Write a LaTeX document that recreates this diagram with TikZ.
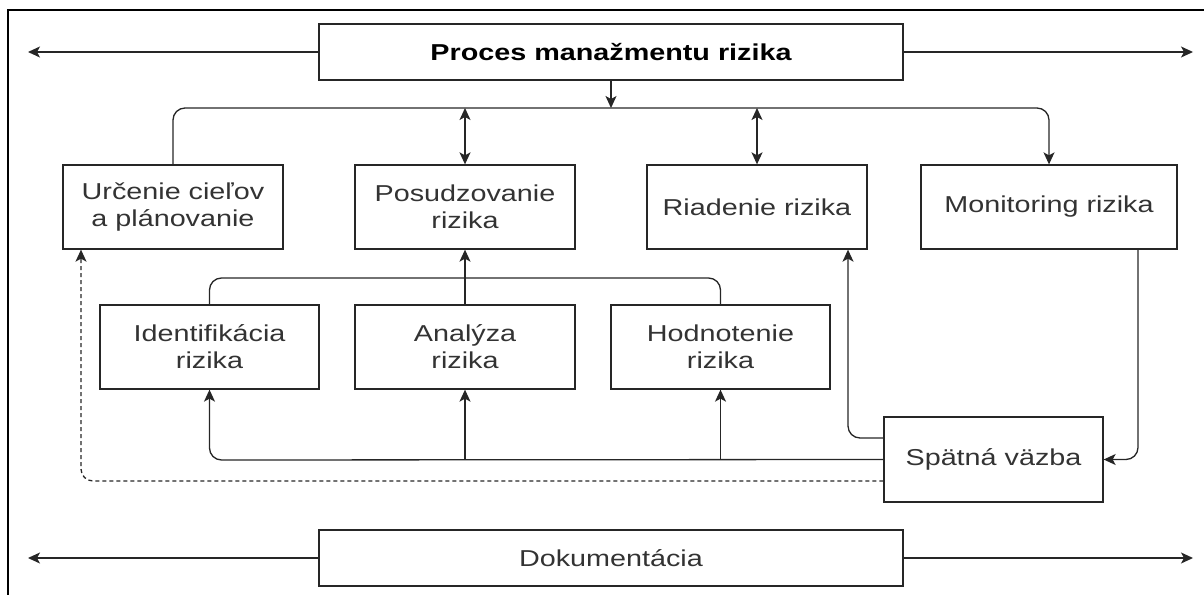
\documentclass[tikz,border=0pt]{standalone}
\usepackage{fontspec}
\setmainfont[FakeStretch=1.25]{Liberation Sans}
\usetikzlibrary{arrows.meta}
\begin{document}
\begin{tikzpicture}[x=1pt,y=-1pt,
  box/.style={draw=black!85, line width=1.3pt, inner sep=0pt, align=center,
    text=black!80, font=\fontsize{23}{27}\selectfont, minimum height=84pt},
  conn/.style={draw=black!85, line width=1.3pt},
  arr/.style={conn, -{Stealth[length=12pt,width=11pt,inset=3pt]}},
  darr/.style={conn, {Stealth[length=12pt,width=11pt,inset=3pt]}-{Stealth[length=12pt,width=11pt,inset=3pt]}},
  rc/.style={rounded corners=12pt}]
\useasboundingbox (0,0) rectangle (1204,594);
\draw[line width=1.2pt, black] (8,600) -- (8,10) -- (1210,10);

\node[box, minimum width=584pt, minimum height=56pt, text=black, font=\fontsize{23}{27}\selectfont\bfseries] (top) at (611,52) {Proces manažmentu rizika};
\node[box, minimum width=584pt, minimum height=56pt] (dok) at (611,558) {Dokumentácia};

\node[box, minimum width=220pt] (urc) at (173,207) {Určenie cieľov\\a plánovanie};
\node[box, minimum width=220pt] (pos) at (465,207) {Posudzovanie\\rizika};
\node[box, minimum width=220pt] (ria) at (757,207) {Riadenie rizika};
\node[box, minimum width=256pt] (mon) at (1049,207) {Monitoring rizika};

\node[box, minimum width=219pt] (ide) at (209.5,347) {Identifikácia\\rizika};
\node[box, minimum width=220pt] (ana) at (465,347) {Analýza\\rizika};
\node[box, minimum width=219pt] (hod) at (720.5,347) {Hodnotenie\\rizika};

\node[box, minimum width=219pt, minimum height=85pt] (spa) at (993.5,459.5) {Spätná väzba};

% coordinates
\coordinate (tl) at (28,52);
\coordinate (tr) at (1193,52);
\coordinate (dl) at (28,558);
\coordinate (dr) at (1193,558);
\coordinate (bus) at (611,108);
\coordinate (br) at (465,278);
\coordinate (fb) at (209.5,460);
\coordinate (r1) at (848,438);
\coordinate (d1) at (81,481);
\coordinate (m1) at (1138,459.5);

% top / bottom arrows
\draw[arr] (top.west) -- (tl);
\draw[arr] (top.east) -- (tr);
\draw[arr] (dok.west) -- (dl);
\draw[arr] (dok.east) -- (dr);

% bus
\draw[arr] (top.south) -- (bus);
\draw[arr, rc] (urc.north) -- (urc.north |- bus) -- (mon.north |- bus) -- (mon.north);
\draw[darr] (pos.north) -- (pos.north |- bus);
\draw[darr] (ria.north) -- (ria.north |- bus);

% bracket
\draw[conn, rc] (ide.north) -- (ide.north |- br) -- (hod.north |- br) -- (hod.north);
\draw[arr] (ana.north) -- (pos.south);

% feedback
\draw[arr, rc] (spa.west) -- (fb) -- (ide.south);
\draw[arr] (ana.south |- spa.west) -- (ana.south);
\draw[arr] (hod.south |- spa.west) -- (hod.south);
\draw[arr, rc] (spa.west |- r1) -- (r1) -- (r1 |- ria.south);
\draw[arr, rc, dash pattern=on 4pt off 3pt] (spa.west |- d1) -- (d1) -- (d1 |- urc.south);
\draw[arr, rc] (mon.south -| m1) -- (m1) -- (spa.east);
\end{tikzpicture}
\end{document}
